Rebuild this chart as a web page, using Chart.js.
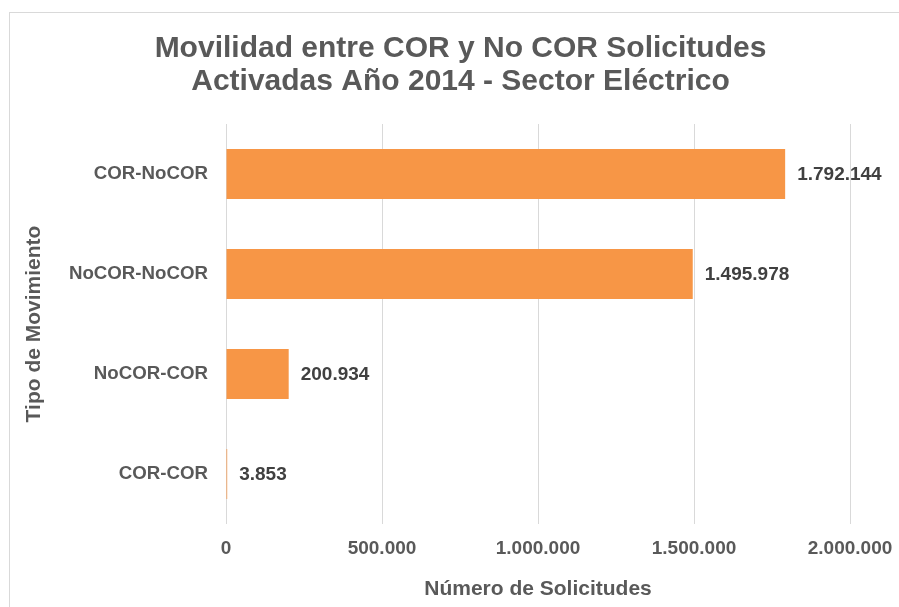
<!DOCTYPE html>
<html>
<head>
    <meta charset="UTF-8">
    <title>Movilidad entre COR y No COR</title>
    <script src="https://cdn.jsdelivr.net/npm/chart.js"></script>
    <style>
        html, body {
            margin: 0;
            padding: 0;
            background: #ffffff;
            overflow: hidden;
        }
        #wrap {
            position: absolute;
            left: 0;
            top: 0;
            width: 899px;
            height: 607px;
        }
        #frame {
            position: absolute;
            left: 9px;
            top: 12px;
            width: 1000px;
            height: 700px;
            border: 1px solid #d9d9d9;
            pointer-events: none;
        }
    </style>
</head>
<body>
<div id="wrap">
    <canvas id="movChart" width="899" height="607"></canvas>
</div>
<div id="frame"></div>

<script>
    // data
    var categories = ['COR-NoCOR', 'NoCOR-NoCOR', 'NoCOR-COR', 'COR-COR'];
    var solicitudes = [1792144, 1495978, 200934, 3853];
    var xTicks = [0, 500000, 1000000, 1500000, 2000000];

    var FONT = "'Liberation Sans', Arial, sans-serif";

    function fmt(v) {
        return String(v).replace(/\B(?=(\d{3})+(?!\d))/g, '.');
    }

    // value labels to the right of each bar
    var barLabels = {
        id: 'barLabels',
        afterDatasetsDraw: function(chart) {
            var ctx = chart.ctx;
            var meta = chart.getDatasetMeta(0);
            ctx.save();
            ctx.font = 'bold 19px ' + FONT;
            ctx.fillStyle = '#404040';
            ctx.textAlign = 'left';
            ctx.textBaseline = 'middle';
            meta.data.forEach(function(bar, i) {
                ctx.fillText(fmt(solicitudes[i]), bar.x + 12, bar.y + 1);
            });
            ctx.restore();
        }
    };

    var ctx = document.getElementById('movChart').getContext('2d');
    var movChart = new Chart(ctx, {
        type: 'bar',
        data: {
            labels: categories,
            datasets: [{
                data: solicitudes,
                backgroundColor: '#F79646',
                borderWidth: 0,
                barPercentage: 0.5,
                categoryPercentage: 1.0
            }]
        },
        options: {
            indexAxis: 'y',
            responsive: false,
            animation: false,
            devicePixelRatio: 1,
            layout: {
                padding: { left: 22, right: 0, top: 0, bottom: 1 }
            },
            plugins: {
                legend: { display: false },
                tooltip: { enabled: false },
                title: {
                    display: true,
                    text: ['Movilidad entre COR y No COR Solicitudes', 'Activadas Año 2014 - Sector Eléctrico'],
                    color: '#595959',
                    font: { family: FONT, size: 30, weight: 'bold', lineHeight: 1.1 },
                    padding: { top: 32, bottom: 26 }
                }
            },
            scales: {
                x: {
                    min: 0,
                    max: 2000000,
                    afterBuildTicks: function(scale) {
                        scale.ticks = xTicks.map(function(v) { return { value: v }; });
                    },
                    afterFit: function(scale) {
                        scale.height = 82;
                        scale.paddingRight = 49;
                    },
                    ticks: {
                        color: '#595959',
                        font: { family: FONT, size: 19, weight: 'bold' },
                        padding: 13,
                        maxRotation: 0,
                        callback: function(v) { return fmt(v); }
                    },
                    grid: {
                        color: '#d9d9d9',
                        lineWidth: 1,
                        drawTicks: false
                    },
                    border: { display: false },
                    title: {
                        display: true,
                        text: 'Número de Solicitudes',
                        color: '#595959',
                        font: { family: FONT, size: 21, weight: 'bold' },
                        padding: { top: 16, bottom: 4 }
                    }
                },
                y: {
                    afterFit: function(scale) {
                        scale.width = 204;
                        scale.paddingTop = 0;
                        scale.paddingBottom = 0;
                    },
                    ticks: {
                        color: '#595959',
                        font: { family: FONT, size: 18.7, weight: 'bold' },
                        padding: 18
                    },
                    grid: { display: false, drawTicks: false },
                    border: { display: false },
                    title: {
                        display: true,
                        text: 'Tipo de Movimiento',
                        color: '#595959',
                        font: { family: FONT, size: 21, weight: 'bold' },
                        padding: { top: 0, bottom: 4 }
                    }
                }
            }
        },
        plugins: [barLabels]
    });
</script>
</body>
</html>
